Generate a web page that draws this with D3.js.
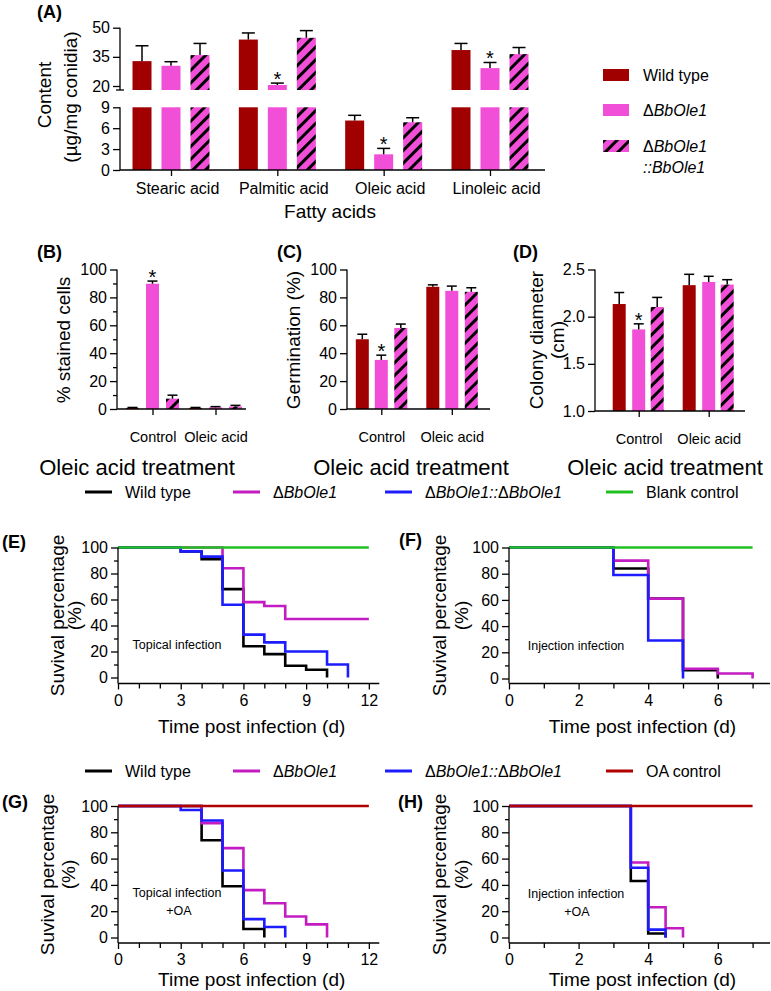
<!DOCTYPE html>
<html><head><meta charset="utf-8">
<script src="https://cdn.jsdelivr.net/npm/d3@7"></script>
<style>
body{margin:0;background:#fff}
svg{display:block}
text{font-family:Arial,"Liberation Sans",sans-serif;fill:#000}
</style>
</head><body>
<svg id="c" width="771" height="991"></svg>
<script>
// ================= DATA =================
// Panel A: fatty acid content (µg/mg conidia)
const fattyAcids     = ["Stearic acid", "Palmitic acid", "Oleic acid", "Linoleic acid"];
const contentWT      = [32.8, 43.9, 7.1, 38.5];
const contentWTsd    = [7.9, 3.4, 0.75, 3.4];
const contentMut     = [30.4, 20.5, 2.25, 29.2];
const contentMutSd   = [2.1, 1.0, 0.85, 2.9];
const contentComp    = [35.9, 44.8, 6.85, 36.4];
const contentCompSd  = [6.0, 3.7, 0.65, 3.4];
const contentMutStar = [false, true, true, true];
const contentUpperTicks = [20, 35, 50];
const contentLowerTicks = [0, 3, 6, 9];

// Panels B-D: oleic acid treatment
const treatments   = ["Control", "Oleic acid"];
const stainedWT    = [0.8, 0.8];
const stainedWTsd  = [0.3, 0.3];
const stainedMut   = [89.8, 1.2];
const stainedMutSd = [1.9, 0.5];
const stainedComp  = [7.4, 1.8];
const stainedCompSd= [2.5, 0.8];
const stainedMutStar = [true, false];
const stainedTicks = [0, 20, 40, 60, 80, 100];
const stainedMinor = [10, 30, 50, 70, 90];

const germWT     = [50.0, 87.6];
const germWTsd   = [3.6, 1.4];
const germMut    = [35.2, 84.7];
const germMutSd  = [3.4, 3.4];
const germComp   = [58.1, 84.0];
const germCompSd = [2.8, 2.9];
const germMutStar = [true, false];
const germTicks  = [0, 20, 40, 60, 80, 100];

const colonyWT     = [2.134, 2.334];
const colonyWTsd   = [0.122, 0.115];
const colonyMut    = [1.865, 2.368];
const colonyMutSd  = [0.059, 0.060];
const colonyComp   = [2.103, 2.340];
const colonyCompSd = [0.101, 0.052];
const colonyMutStar = [true, false];
const colonyTicks  = [1.0, 1.5, 2.0, 2.5];

// Panels E-H: survival (%), step curves (day, survival)
const survTicks  = [0, 20, 40, 60, 80, 100];
const survMinor  = [10, 30, 50, 70, 90];
const topicalDayTicks = [0, 3, 6, 9, 12];
const topicalDayMinor = [1, 2, 4, 5, 7, 8, 10, 11];
const injectDayTicks  = [0, 2, 4, 6];
const injectDayMinor  = [1, 3, 5, 7];

const eWTdays   = [0, 3, 4, 5, 6, 7, 8, 9, 10];
const eWTsurv   = [100, 97, 91, 68, 24, 18, 9, 6, 0];
const eMutDays  = [0, 5, 6, 7, 8, 12];
const eMutSurv  = [100, 84, 58, 55, 45, 45];
const eCompDays = [0, 3, 4, 5, 6, 7, 8, 10, 11];
const eCompSurv = [100, 97, 93, 56, 33, 27, 20, 10, 0];
const eCtrlDays = [0, 12];
const eCtrlSurv = [100, 100];

const fWTdays   = [0, 3, 4, 5, 6];
const fWTsurv   = [100, 84, 61, 6.3, 0];
const fMutDays  = [0, 3, 4, 5, 6, 7];
const fMutSurv  = [100, 90, 61, 7.4, 3.8, 0];
const fCompDays = [0, 3, 4, 5];
const fCompSurv = [100, 79, 29, 0];
const fCtrlDays = [0, 7];
const fCtrlSurv = [100, 100];

const gWTdays   = [0, 4, 5, 6, 7];
const gWTsurv   = [100, 74, 39, 6.5, 0];
const gMutDays  = [0, 4, 5, 6, 7, 8, 9, 10];
const gMutSurv  = [100, 87, 68, 36, 26, 16, 10, 0];
const gCompDays = [0, 3, 4, 5, 6, 7, 8];
const gCompSurv = [100, 97, 89, 51, 14, 8, 0];
const gCtrlDays = [0, 12];
const gCtrlSurv = [100, 100];

const hWTdays   = [0, 3.5, 4, 4.5];
const hWTsurv   = [100, 43, 3, 0];
const hMutDays  = [0, 3.5, 4, 4.5, 5];
const hMutSurv  = [100, 57, 23, 7, 0];
const hCompDays = [0, 3.5, 4, 4.5];
const hCompSurv = [100, 53, 6, 0];
const hCtrlDays = [0, 7];
const hCtrlSurv = [100, 100];

// ================= STYLE =================
const FONT = 'Arial, "Liberation Sans", sans-serif';
const C_WT = "#a00000", C_PINK = "#f24fd8";
const L_WT = "#000000", L_MUT = "#c21cc2", L_COMP = "#1c1cff", L_BLANK = "#1fc01f", L_OA = "#b00000";

const svg = d3.select("#c");
const defs = svg.append("defs");
const pat = defs.append("pattern").attr("id", "hatch").attr("patternUnits", "userSpaceOnUse")
  .attr("width", 9).attr("height", 9).attr("patternTransform", "rotate(45)");
pat.append("rect").attr("width", 9).attr("height", 9).attr("fill", C_PINK);
pat.append("line").attr("x1", 4.5).attr("x2", 4.5).attr("y1", -1).attr("y2", 10)
  .attr("stroke", "#000").attr("stroke-width", 3);
const FILLS = [C_WT, C_PINK, "url(#hatch)"];

function styleAxis(g, size) {
  g.select(".domain").remove();
  g.attr("font-family", FONT).attr("font-size", size || 16);
  g.selectAll(".tick line").attr("stroke", "#000").attr("stroke-width", 1.3);
  g.selectAll(".tick text").attr("fill", "#000");
}
function vline(x, y1, y2) {
  svg.append("line").attr("x1", x).attr("x2", x).attr("y1", y1).attr("y2", y2)
    .attr("stroke", "#000").attr("stroke-width", 1.3);
}
function hline(x1, x2, y) {
  svg.append("line").attr("x1", x1).attr("x2", x2).attr("y1", y).attr("y2", y)
    .attr("stroke", "#000").attr("stroke-width", 1.3);
}
function label(x, y, s, size, opts) {
  opts = opts || {};
  const t = svg.append("text").attr("x", x).attr("y", y).attr("font-size", size)
    .attr("text-anchor", opts.anchor || "start").text(s);
  if (opts.bold) t.attr("font-weight", "bold");
  return t;
}
function vlabel(x, y, s, size) {
  svg.append("text").attr("transform", `translate(${x},${y}) rotate(-90)`)
    .attr("text-anchor", "middle").attr("dy", "0.35em").attr("font-size", size).text(s);
}
function rich(x, y, parts, size, anchor) {
  const t = svg.append("text").attr("x", x).attr("y", y).attr("font-size", size)
    .attr("text-anchor", anchor || "start").attr("dy", "0.35em");
  parts.forEach(p => t.append("tspan").attr("font-style", p.i ? "italic" : "normal").text(p.t));
  return t;
}
function errBar(cx, yTop, yErr, cap) {
  svg.append("line").attr("x1", cx).attr("x2", cx).attr("y1", yTop).attr("y2", yErr)
    .attr("stroke", "#000").attr("stroke-width", 1.5);
  svg.append("line").attr("x1", cx - cap / 2).attr("x2", cx + cap / 2).attr("y1", yErr).attr("y2", yErr)
    .attr("stroke", "#000").attr("stroke-width", 1.5);
}
function star(cx, yErr) {
  svg.append("text").attr("x", cx).attr("y", yErr + 3).attr("text-anchor", "middle")
    .attr("font-size", 20).text("*");
}

// ================= PANEL A =================
(function () {
  const AX = 120, XEND = 545, XAXY = 170, BREAK = 90;
  const xA = d3.scalePoint().domain(fattyAcids).range([171, 490]);
  const yUp = d3.scaleLinear().domain([20, 50]).range([86, 27.7]);
  const yLo = d3.scaleLinear().domain([0, 9]).range([XAXY, 107.3]);
  const bw = 19, offs = [-29, 0, 29];
  const series = [[contentWT, contentWTsd], [contentMut, contentMutSd], [contentComp, contentCompSd]];

  series.forEach((s, si) => {
    fattyAcids.forEach((cat, i) => {
      const v = s[0][i], sd = s[1][i];
      const cx = xA(cat) + offs[si];
      const loTop = yLo(Math.min(v, 9));
      svg.append("rect").attr("x", cx - bw / 2).attr("width", bw)
        .attr("y", loTop).attr("height", yLo(0) - loTop).attr("fill", FILLS[si]);
      let yTop, yErr;
      if (v > 9) {
        yTop = yUp(v); yErr = yUp(v + sd);
        svg.append("rect").attr("x", cx - bw / 2).attr("width", bw)
          .attr("y", yTop).attr("height", BREAK - yTop).attr("fill", FILLS[si]);
      } else {
        yTop = yLo(v); yErr = yLo(v + sd);
      }
      errBar(cx, yTop, yErr, 13);
      if (si === 1 && contentMutStar[i]) star(cx, yErr);
    });
  });

  // axes
  const gu = svg.append("g").attr("transform", `translate(${AX},0)`)
    .call(d3.axisLeft(yUp).tickValues(contentUpperTicks).tickSize(7).tickPadding(3));
  styleAxis(gu, 16);
  const gl = svg.append("g").attr("transform", `translate(${AX},0)`)
    .call(d3.axisLeft(yLo).tickValues(contentLowerTicks).tickSize(7).tickPadding(3));
  styleAxis(gl, 16);
  vline(AX, yUp(50), BREAK);
  hline(AX - 4, AX + 4, BREAK);
  vline(AX, yLo(9), yLo(0));
  const gx = svg.append("g").attr("transform", `translate(0,${XAXY})`)
    .call(d3.axisBottom(xA).tickSize(6).tickPadding(7));
  styleAxis(gx, 16);
  gx.selectAll(".tick text").attr("dx", 6);
  hline(AX, XEND, XAXY);

  vlabel(44, 95, "Content", 19);
  vlabel(70, 97, "(µg/mg conidia)", 19);
  label(330, 218, "Fatty acids", 19, { anchor: "middle" });
  label(37, 18, "(A)", 18, { bold: true });

  // legend
  const lx = 603, lw = 26, lh = 12;
  [[75, 0], [110, 1], [146, 2]].forEach(([cy, si]) => {
    svg.append("rect").attr("x", lx).attr("y", cy - lh / 2).attr("width", lw).attr("height", lh)
      .attr("fill", FILLS[si]);
  });
  rich(643, 75, [{ t: "Wild type" }], 16);
  rich(643, 110, [{ t: "Δ" }, { t: "BbOle1", i: true }], 16);
  rich(643, 146, [{ t: "Δ" }, { t: "BbOle1", i: true }], 16);
  rich(643, 167, [{ t: "::BbOle1", i: true }], 16);
})();

// ================= PANELS B-D =================
function barPanel(o) {
  const x = d3.scalePoint().domain(treatments).range(o.centers);
  const y = d3.scaleLinear().domain(o.domain).range([o.y0, o.yTop]);
  const bw = 13;
  o.series.forEach((s, si) => {
    treatments.forEach((t, i) => {
      const v = s[0][i], sd = s[1][i];
      const cx = x(t) + o.offs[si];
      svg.append("rect").attr("x", cx - bw / 2).attr("width", bw)
        .attr("y", y(v)).attr("height", y(o.domain[0]) - y(v)).attr("fill", FILLS[si]);
      errBar(cx, y(v), y(v + sd), 10);
      if (si === 1 && o.stars[i]) star(cx, y(v + sd));
    });
  });
  const gy = svg.append("g").attr("transform", `translate(${o.ax},0)`)
    .call(d3.axisLeft(y).tickValues(o.ticks).tickSize(7).tickPadding(3).tickFormat(o.fmt));
  styleAxis(gy, 16);
  if (o.minor) {
    const gm = svg.append("g").attr("transform", `translate(${o.ax},0)`)
      .call(d3.axisLeft(y).tickValues(o.minor).tickSize(4).tickFormat(""));
    styleAxis(gm, 16);
  }
  vline(o.ax, o.yTop, o.y0);
  const gx = svg.append("g").attr("transform", `translate(0,${o.y0})`)
    .call(d3.axisBottom(x).tickSize(6).tickPadding(17));
  styleAxis(gx, 14.5);
  hline(o.ax, o.xEnd, o.y0);
}

barPanel({
  ax: 117, xEnd: 246, centers: [152.5, 215.5], offs: [-20, 0, 20],
  domain: [0, 100], y0: 409, yTop: 269.5, ticks: stainedTicks, minor: stainedMinor, fmt: d3.format("d"),
  series: [[stainedWT, stainedWTsd], [stainedMut, stainedMutSd], [stainedComp, stainedCompSd]],
  stars: stainedMutStar
});
barPanel({
  ax: 347, xEnd: 490, centers: [381.3, 451.8], offs: [-19, 0, 19.5],
  domain: [0, 100], y0: 409, yTop: 269.5, ticks: germTicks, fmt: d3.format("d"),
  series: [[germWT, germWTsd], [germMut, germMutSd], [germComp, germCompSd]],
  stars: germMutStar
});
barPanel({
  ax: 595, xEnd: 745, centers: [638.7, 708.7], offs: [-19.5, 0, 18.5],
  domain: [1, 2.5], y0: 411, yTop: 269.5, ticks: colonyTicks, fmt: d3.format(".1f"),
  series: [[colonyWT, colonyWTsd], [colonyMut, colonyMutSd], [colonyComp, colonyCompSd]],
  stars: colonyMutStar
});
label(37, 258, "(B)", 18, { bold: true });
label(277, 258, "(C)", 18, { bold: true });
label(513, 258, "(D)", 18, { bold: true });
vlabel(63, 340, "% stained cells", 19);
vlabel(293, 340, "Germination (%)", 19);
vlabel(536, 340, "Colony diameter", 19);
vlabel(557, 340, "(cm)", 19);
label(137, 475, "Oleic acid treatment", 22, { anchor: "middle" });
label(411, 475, "Oleic acid treatment", 22, { anchor: "middle" });
label(665, 475, "Oleic acid treatment", 22, { anchor: "middle" });

// ================= PANELS E-H =================
function survPanel(o) {
  const x = d3.scaleLinear().domain([0, o.xMax]).range([o.x0, o.x1]);
  const y = d3.scaleLinear().domain([0, 100]).range([o.y0, o.y100]);
  const line = d3.line().x(d => x(d[0])).y(d => y(d[1])).curve(d3.curveStepAfter);
  o.curves.forEach(c => {
    const pts = c.days.map((d, i) => [d, c.surv[i]]);
    svg.append("path").attr("d", line(pts)).attr("fill", "none")
      .attr("stroke", c.color).attr("stroke-width", 2.6);
  });
  const gy = svg.append("g").attr("transform", `translate(${o.x0},0)`)
    .call(d3.axisLeft(y).tickValues(survTicks).tickSize(7).tickPadding(3));
  styleAxis(gy, 16);
  const gm = svg.append("g").attr("transform", `translate(${o.x0},0)`)
    .call(d3.axisLeft(y).tickValues(survMinor).tickSize(4).tickFormat(""));
  styleAxis(gm, 16);
  vline(o.x0, y(100), o.axY);
  const gx = svg.append("g").attr("transform", `translate(0,${o.axY})`)
    .call(d3.axisBottom(x).tickValues(o.xTicks).tickSize(6).tickPadding(5));
  styleAxis(gx, 16);
  const gxm = svg.append("g").attr("transform", `translate(0,${o.axY})`)
    .call(d3.axisBottom(x).tickValues(o.xMinor).tickSize(5).tickFormat(""));
  styleAxis(gxm, 16);
  hline(o.x0, o.x1, o.axY);
  o.notes.forEach(n => label(n[0], n[1], n[2], 12.5, { anchor: "middle" }));
  label((o.x0 + o.x1) / 2 + 3, o.axY + o.titleDy, "Time post infection (d)", 19, { anchor: "middle" });
  vlabel(o.lab1, (o.y100 + o.axY) / 2, "Suvival percentage", 19);
  vlabel(o.lab2, (o.y100 + o.axY) / 2, "(%)", 19);
}

survPanel({
  x0: 118, x1: 379.3, xMax: 12.5, y0: 677.5, y100: 547.5, axY: 683.5, titleDy: 49,
  xTicks: topicalDayTicks, xMinor: topicalDayMinor, lab1: 57, lab2: 74,
  notes: [[177, 649, "Topical infection"]],
  curves: [
    { days: eWTdays, surv: eWTsurv, color: L_WT },
    { days: eMutDays, surv: eMutSurv, color: L_MUT },
    { days: eCompDays, surv: eCompSurv, color: L_COMP },
    { days: eCtrlDays, surv: eCtrlSurv, color: L_BLANK }
  ]
});
survPanel({
  x0: 509, x1: 770, xMax: 7.5, y0: 678.5, y100: 547.5, axY: 683.5, titleDy: 49,
  xTicks: injectDayTicks, xMinor: injectDayMinor, lab1: 439, lab2: 461,
  notes: [[576, 650, "Injection infection"]],
  curves: [
    { days: fWTdays, surv: fWTsurv, color: L_WT },
    { days: fMutDays, surv: fMutSurv, color: L_MUT },
    { days: fCompDays, surv: fCompSurv, color: L_COMP },
    { days: fCtrlDays, surv: fCtrlSurv, color: L_BLANK }
  ]
});
survPanel({
  x0: 118, x1: 379.3, xMax: 12.5, y0: 937.5, y100: 806, axY: 943, titleDy: 43,
  xTicks: topicalDayTicks, xMinor: topicalDayMinor, lab1: 47, lab2: 68,
  notes: [[177, 897, "Topical infection"], [179, 915, "+OA"]],
  curves: [
    { days: gWTdays, surv: gWTsurv, color: L_WT },
    { days: gMutDays, surv: gMutSurv, color: L_MUT },
    { days: gCompDays, surv: gCompSurv, color: L_COMP },
    { days: gCtrlDays, surv: gCtrlSurv, color: L_OA }
  ]
});
survPanel({
  x0: 509, x1: 770, xMax: 7.5, y0: 937.5, y100: 806, axY: 943, titleDy: 43,
  xTicks: injectDayTicks, xMinor: injectDayMinor, lab1: 439, lab2: 461,
  notes: [[576, 898, "Injection infection"], [577, 916, "+OA"]],
  curves: [
    { days: hWTdays, surv: hWTsurv, color: L_WT },
    { days: hMutDays, surv: hMutSurv, color: L_MUT },
    { days: hCompDays, surv: hCompSurv, color: L_COMP },
    { days: hCtrlDays, surv: hCtrlSurv, color: L_OA }
  ]
});
label(2, 548, "(E)", 18, { bold: true });
label(399, 546, "(F)", 18, { bold: true });
label(2, 808, "(G)", 18, { bold: true });
label(398, 808, "(H)", 18, { bold: true });

// legends for survival rows
function lineLegend(cy, items) {
  items.forEach(it => {
    svg.append("line").attr("x1", it.x).attr("x2", it.x + 27).attr("y1", cy).attr("y2", cy)
      .attr("stroke", it.color).attr("stroke-width", 3);
    rich(it.x + 40, cy, it.parts, 16);
  });
}
const legE = [
  { x: 85, color: L_WT, parts: [{ t: "Wild type" }] },
  { x: 233, color: L_MUT, parts: [{ t: "Δ" }, { t: "BbOle1", i: true }] },
  { x: 385, color: L_COMP, parts: [{ t: "Δ" }, { t: "BbOle1::", i: true }, { t: "Δ" }, { t: "BbOle1", i: true }] },
  { x: 606, color: L_BLANK, parts: [{ t: "Blank control" }] }
];
lineLegend(492, legE);
const legG = legE.slice(0, 3).concat([{ x: 606, color: L_OA, parts: [{ t: "OA control" }] }]);
lineLegend(771, legG);
</script>
</body></html>
